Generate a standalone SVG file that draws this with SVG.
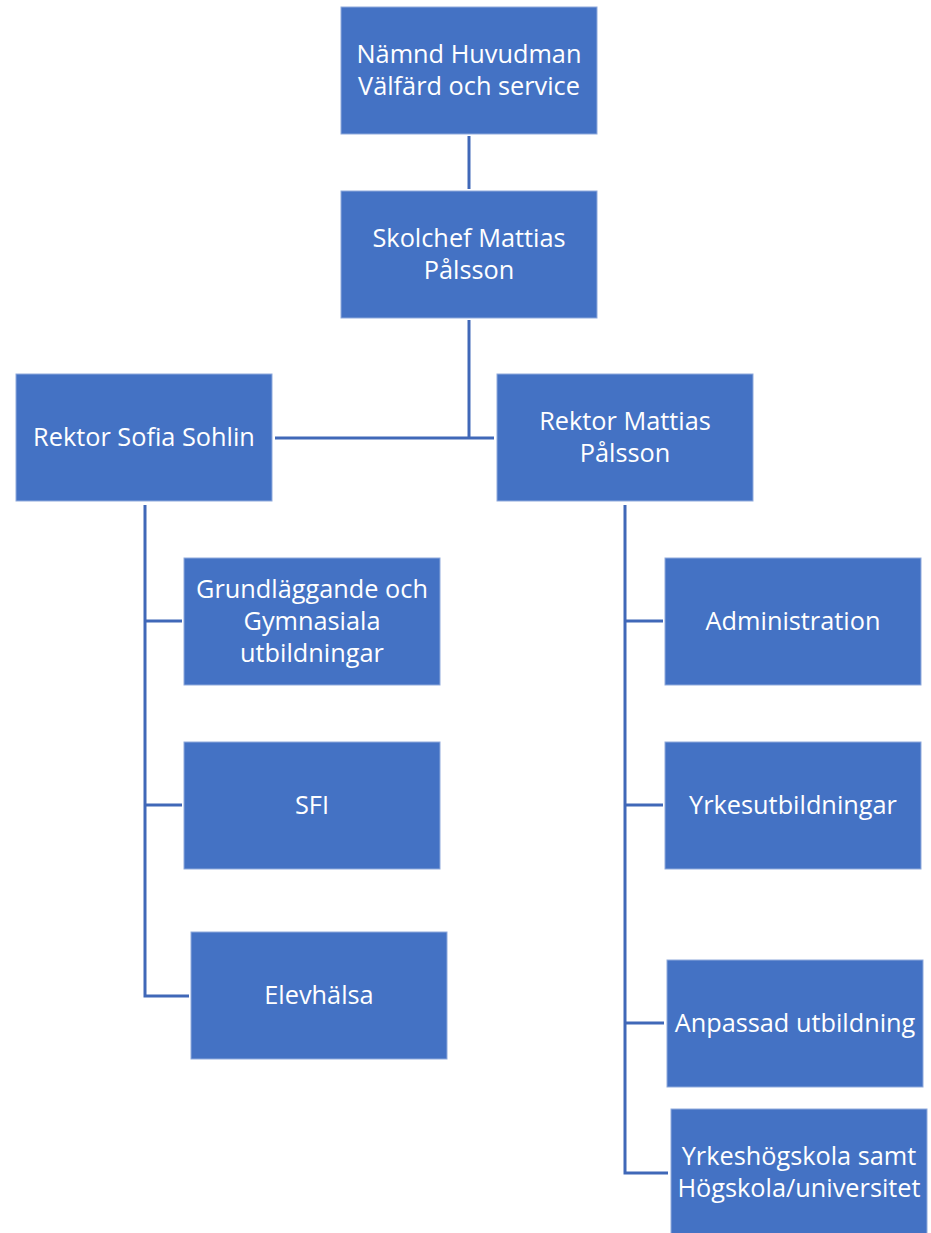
<svg xmlns="http://www.w3.org/2000/svg" width="931" height="1233" viewBox="0 0 931 1233">
<style>
.box{fill:#4472C4;stroke:#8FAADC;stroke-width:1}
.t{font-family:"Open Sans","Liberation Sans",sans-serif;font-size:25.3px;fill:#FFFFFF;text-anchor:middle}
.c{fill:none;stroke:#4068B8;stroke-width:3}
</style>
<rect width="931" height="1233" fill="#FFFFFF"/>
<g id="connectors">
<line class="c" x1="469" y1="136" x2="469" y2="189"/>
<line class="c" x1="469" y1="320" x2="469" y2="438"/>
<line class="c" x1="275" y1="438" x2="494" y2="438"/>
<polyline class="c" points="145,505 145,996 189,996"/>
<line class="c" x1="145" y1="621" x2="182" y2="621"/>
<line class="c" x1="145" y1="805" x2="182" y2="805"/>
<polyline class="c" points="625,505 625,1173 668,1173"/>
<line class="c" x1="625" y1="621" x2="663" y2="621"/>
<line class="c" x1="625" y1="805" x2="663" y2="805"/>
<line class="c" x1="625" y1="1023" x2="664" y2="1023"/>
</g>
<g id="namnd">
<rect class="box" x="341" y="7" width="256" height="127"/>
<text class="t" x="469" y="63">Nämnd Huvudman</text>
<text class="t" x="469" y="95">Välfärd och service</text>
</g>
<g id="skolchef">
<rect class="box" x="341" y="191" width="256" height="127"/>
<text class="t" x="469" y="247">Skolchef Mattias</text>
<text class="t" x="469" y="279">Pålsson</text>
</g>
<g id="rektor-sofia">
<rect class="box" x="16" y="374" width="256" height="127"/>
<text class="t" x="144" y="446">Rektor Sofia Sohlin</text>
</g>
<g id="rektor-mattias">
<rect class="box" x="497" y="374" width="256" height="127"/>
<text class="t" x="625" y="430">Rektor Mattias</text>
<text class="t" x="625" y="462">Pålsson</text>
</g>
<g id="grundlaggande">
<rect class="box" x="184" y="558" width="256" height="127"/>
<text class="t" x="312" y="598">Grundläggande och</text>
<text class="t" x="312" y="630">Gymnasiala</text>
<text class="t" x="312" y="662">utbildningar</text>
</g>
<g id="sfi">
<rect class="box" x="184" y="742" width="256" height="127"/>
<text class="t" x="312" y="814">SFI</text>
</g>
<g id="elevhalsa">
<rect class="box" x="191" y="932" width="256" height="127"/>
<text class="t" x="319" y="1004">Elevhälsa</text>
</g>
<g id="administration">
<rect class="box" x="665" y="558" width="256" height="127"/>
<text class="t" x="793" y="630">Administration</text>
</g>
<g id="yrkesutbildningar">
<rect class="box" x="665" y="742" width="256" height="127"/>
<text class="t" x="793" y="814">Yrkesutbildningar</text>
</g>
<g id="anpassad">
<rect class="box" x="667" y="960" width="256" height="127"/>
<text class="t" x="795" y="1032">Anpassad utbildning</text>
</g>
<g id="yrkeshogskola">
<rect class="box" x="671" y="1109" width="256" height="127"/>
<text class="t" x="799" y="1165">Yrkeshögskola samt</text>
<text class="t" x="799" y="1197">Högskola/universitet</text>
</g>
</svg>
